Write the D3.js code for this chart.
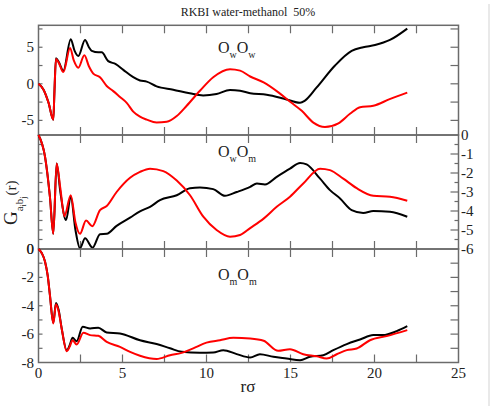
<!DOCTYPE html>
<html>
<head>
<meta charset="utf-8">
<script src="https://cdn.jsdelivr.net/npm/d3@7"></script>
<style>
  body { margin: 0; background: #fff; }
  svg { display: block; }
  text { font-family: "Liberation Serif", "Times New Roman", serif; fill: #222; }
</style>
</head>
<body>
<script>
// G_ab(r) curves for the three pairs as [r, G]
const owowBlack = [[0,0],[0.3,-0.8],[0.6,-2.6],[0.88,-4.9],[0.95,-1],[1.04,3.5],[1.2,3.0],[1.48,1.8],[1.92,6.1],[2.15,4.5],[2.37,3.8],[2.77,6.0],[3.0,5.0],[3.17,4.5],[3.56,4.3],[3.76,4.3],[4.15,3.1],[4.6,2.7],[5.05,1.9],[5.64,0.9],[6.04,0.45],[6.44,0.3],[7.03,-0.35],[8.02,-0.8],[9.0,-1.3],[9.8,-1.6],[10.6,-1.4],[11.4,-0.85],[12.0,-0.95],[12.6,-1.3],[13.58,-1.5],[14.57,-2.0],[15.57,-2.6],[15.86,-2.3],[16.56,-0.5],[17.65,2.5],[18.64,4.5],[19.33,5.0],[20.03,5.3],[20.92,6.0],[21.95,7.55]];
const owowRed = [[0,0],[0.3,-0.8],[0.6,-2.6],[0.88,-4.9],[0.95,-1],[1.04,3.4],[1.2,2.9],[1.48,1.6],[1.88,4.9],[2.1,3.2],[2.37,2.2],[2.73,3.9],[3.0,2.4],[3.26,1.4],[3.66,0.9],[4.06,-0.3],[4.45,-1.0],[4.85,-1.8],[5.25,-2.6],[5.64,-3.8],[6.04,-4.5],[6.44,-4.9],[7.03,-5.3],[7.63,-5.2],[8.23,-4.4],[8.82,-3.0],[9.61,-0.95],[10.4,0.9],[11.4,2.0],[12.0,1.8],[12.6,1.0],[13.4,0.2],[14.3,-1.2],[15.0,-2.5],[15.67,-3.7],[16.36,-5.3],[17.05,-5.9],[17.85,-5.4],[18.54,-4.1],[19.14,-3.2],[19.93,-3.0],[20.9,-2.1],[21.95,-1.2]];

const owomBlack = [[0,0],[0.39,-1.15],[0.68,-3.25],[0.88,-5.2],[1.08,-1.5],[1.3,-3.0],[1.64,-4.48],[1.92,-3.25],[2.2,-5.0],[2.47,-5.96],[2.77,-5.44],[3.22,-5.93],[3.66,-5.22],[4.06,-5.2],[4.65,-4.78],[5.45,-4.35],[6.04,-4.02],[6.64,-3.78],[7.23,-3.43],[8.23,-3.17],[9.02,-2.8],[9.61,-2.76],[10.4,-2.85],[11.1,-3.2],[11.8,-3.0],[12.6,-2.73],[13.0,-2.55],[13.48,-2.6],[14.18,-2.2],[14.97,-1.77],[15.57,-1.47],[15.96,-1.55],[16.76,-2.3],[17.35,-2.9],[17.95,-3.34],[18.64,-3.95],[19.33,-4.1],[19.93,-4.0],[20.92,-4.04],[21.95,-4.3]];
const owomRed = [[0,0],[0.39,-1.15],[0.68,-3.25],[0.88,-5.2],[1.08,-1.5],[1.3,-2.8],[1.54,-4.27],[1.92,-3.17],[2.2,-4.6],[2.47,-5.2],[2.83,-4.5],[3.2,-4.8],[3.66,-3.95],[4.06,-3.74],[4.65,-3.0],[5.45,-2.25],[6.04,-1.94],[6.64,-1.77],[7.43,-1.9],[8.23,-2.4],[9.02,-3.17],[9.81,-4.3],[10.6,-5.0],[11.4,-5.35],[12.0,-5.26],[12.6,-4.9],[13.4,-4.4],[14.18,-3.78],[14.97,-3.25],[15.76,-2.55],[16.76,-1.77],[17.35,-1.85],[18.14,-2.3],[18.94,-2.8],[19.93,-3.2],[20.92,-3.25],[21.95,-3.46]];

const omomBlack = [[0,0],[0.2,-0.3],[0.39,-0.9],[0.55,-1.9],[0.68,-3.25],[0.88,-5.2],[1.04,-3.8],[1.2,-4.3],[1.38,-5.6],[1.68,-7.15],[1.85,-6.8],[2.03,-6.26],[2.27,-6.5],[2.63,-5.48],[3.07,-5.6],[3.56,-5.55],[4.06,-5.88],[4.85,-5.95],[6.04,-6.43],[7.03,-6.7],[7.83,-7.0],[8.52,-7.25],[9.61,-7.32],[10.4,-7.3],[11.0,-7.13],[11.8,-7.41],[12.6,-7.65],[13.18,-7.41],[13.98,-7.6],[14.77,-7.72],[15.57,-7.84],[16.16,-7.6],[16.95,-7.49],[17.55,-7.13],[18.35,-6.7],[19.14,-6.38],[19.93,-6.07],[20.5,-6.07],[21.32,-5.79],[21.95,-5.44]];
const omomRed = [[0,0],[0.2,-0.3],[0.39,-0.9],[0.55,-1.9],[0.68,-3.25],[0.88,-5.25],[1.04,-3.9],[1.2,-4.4],[1.38,-5.6],[1.68,-7.2],[1.85,-6.9],[2.03,-6.43],[2.27,-6.73],[2.67,-5.9],[3.07,-6.07],[3.56,-6.12],[4.06,-6.54],[4.85,-6.9],[5.45,-7.25],[6.04,-7.52],[7.03,-7.75],[7.83,-7.49],[8.52,-7.32],[9.21,-7.0],[10.0,-6.6],[10.8,-6.43],[11.6,-6.26],[12.6,-6.31],[13.4,-6.47],[14.27,-7.18],[14.97,-7.06],[15.76,-7.42],[16.56,-7.56],[17.15,-7.72],[17.75,-7.42],[18.35,-7.13],[18.94,-7.01],[19.73,-6.43],[20.72,-6.14],[21.95,-5.72]];

// axis domains and tick values
const xDomain = [0, 25];
const xTicks = [0, 2.5, 5, 7.5, 10, 12.5, 15, 17.5, 20, 22.5, 25];
const xLabels = [0, 5, 10, 15, 20, 25];
const topDomain = [-7, 8];
const topLabels = [-5, 0, 5];
const midDomain = [-6, 0];
const midLabels = [0, -1, -2, -3, -4, -5, -6];
const botDomain = [-8, 0];
const botLabels = [0, -2, -4, -6, -8];

const W = 498, H = 406;
const svg = d3.select("body").append("svg").attr("width", W).attr("height", H);

// faint page edge on the right
svg.append("line")
  .attr("x1", 489).attr("x2", 489).attr("y1", 4).attr("y2", H)
  .attr("stroke", "#e2e2e2").attr("stroke-width", 1.5);

const x = d3.scaleLinear().domain(xDomain).range([38.5, 458.5]);

const panels = [
  { y0: 25.3, y1: 135, domain: topDomain, black: owowBlack, red: owowRed,
    leftTicks: d3.range(-5, 8, 2.5), leftLabels: topLabels,
    rightTicks: d3.range(-5, 8, 2.5), rightMinor: [], rightLabels: [],
    label: ["O", "w", "O", "w"], labelY: 53 },
  { y0: 135, y1: 249, domain: midDomain, black: owomBlack, red: owomRed,
    leftTicks: d3.range(-5.5, 0, 0.5), leftLabels: [],
    rightTicks: d3.range(-5, 0, 1), rightMinor: d3.range(-5.5, 0, 1), rightLabels: midLabels,
    label: ["O", "w", "O", "m"], labelY: 157 },
  { y0: 249, y1: 362.5, domain: botDomain, black: omomBlack, red: omomRed,
    leftTicks: d3.range(-7, 0, 1), leftLabels: botLabels,
    rightTicks: d3.range(-7, 0, 1), rightMinor: [], rightLabels: [],
    label: ["O", "m", "O", "m"], labelY: 280 }
];

const frameColor = "#6b6b6b";

panels.forEach(p => {
  const y = d3.scaleLinear().domain(p.domain).range([p.y1, p.y0]);
  const g = svg.append("g");

  // tick marks, all pointing inward
  const ticks = g.append("g").attr("stroke", frameColor).attr("stroke-width", 1.2);
  xTicks.slice(1, -1).forEach(t => {
    ticks.append("line").attr("x1", x(t)).attr("x2", x(t)).attr("y1", p.y0).attr("y2", p.y0 + 8);
    ticks.append("line").attr("x1", x(t)).attr("x2", x(t)).attr("y1", p.y1).attr("y2", p.y1 - 8);
  });
  p.leftTicks.forEach(t => {
    ticks.append("line").attr("x1", x(0)).attr("x2", x(0) + 4).attr("y1", y(t)).attr("y2", y(t));
  });
  p.rightTicks.forEach(t => {
    ticks.append("line").attr("x1", x(25)).attr("x2", x(25) - 8).attr("y1", y(t)).attr("y2", y(t));
  });
  p.rightMinor.forEach(t => {
    ticks.append("line").attr("x1", x(25)).attr("x2", x(25) - 4).attr("y1", y(t)).attr("y2", y(t));
  });

  // frame
  g.append("rect")
    .attr("x", x(0)).attr("y", p.y0)
    .attr("width", x(25) - x(0)).attr("height", p.y1 - p.y0)
    .attr("fill", "none").attr("stroke", frameColor).attr("stroke-width", 1.5);

  // curves
  const line = d3.line().x(d => x(d[0])).y(d => y(d[1])).curve(d3.curveMonotoneX);
  g.append("path").datum(p.black).attr("d", line)
    .attr("fill", "none").attr("stroke", "#000").attr("stroke-width", 2);
  g.append("path").datum(p.red).attr("d", line)
    .attr("fill", "none").attr("stroke", "#ff0000").attr("stroke-width", 2);

  // left labels
  g.selectAll(".ll").data(p.leftLabels).enter().append("text")
    .attr("x", 34).attr("y", d => y(d) + 5)
    .attr("text-anchor", "end").style("font-size", "15px")
    .text(d => d);

  // right labels
  g.selectAll(".rl").data(p.rightLabels).enter().append("text")
    .attr("x", 461).attr("y", d => y(d) + 5)
    .attr("text-anchor", "start").style("font-size", "15px")
    .text(d => d);

  // pair label, O with subscripts
  const lab = g.append("text").attr("x", 218).attr("y", p.labelY).style("font-size", "16px");
  lab.append("tspan").text(p.label[0]);
  lab.append("tspan").attr("dy", 5).style("font-size", "10px").text(p.label[1]);
  lab.append("tspan").attr("dy", -5).text(p.label[2]);
  lab.append("tspan").attr("dy", 5).style("font-size", "10px").text(p.label[3]);
});

// middle panel left axis: only the 0 at its bottom
svg.append("text")
  .attr("x", 34).attr("y", 254).attr("text-anchor", "end")
  .style("font-size", "15px").text("0");

// x tick labels under the bottom panel
svg.selectAll(".xl").data(xLabels).enter().append("text")
  .attr("x", d => x(d)).attr("y", 378)
  .attr("text-anchor", "middle").style("font-size", "15px")
  .text(d => d);

// x title
svg.append("text")
  .attr("x", 248).attr("y", 392).attr("text-anchor", "middle")
  .style("font-size", "17px").text("rσ");

// title (two spaces before 50%)
svg.append("text")
  .attr("x", 248).attr("y", 16).attr("text-anchor", "middle")
  .style("font-size", "12px").style("white-space", "pre")
  .text("RKBI water-methanol  50%");

// y title, rotated: G with a_i b_j subscripts, then (r)
const yt = svg.append("text")
  .attr("transform", "translate(17,225) rotate(-90)")
  .style("font-size", "19px");
yt.append("tspan").text("G");
yt.append("tspan").attr("dy", 6).style("font-size", "11px").text("a");
yt.append("tspan").attr("dy", 3).style("font-size", "8px").text("i");
yt.append("tspan").attr("dy", -3).style("font-size", "11px").text("b");
yt.append("tspan").attr("dy", 3).style("font-size", "8px").text("j");
yt.append("tspan").attr("dy", -10).attr("dx", 1).style("font-size", "15px").text("(r)");
</script>
</body>
</html>
